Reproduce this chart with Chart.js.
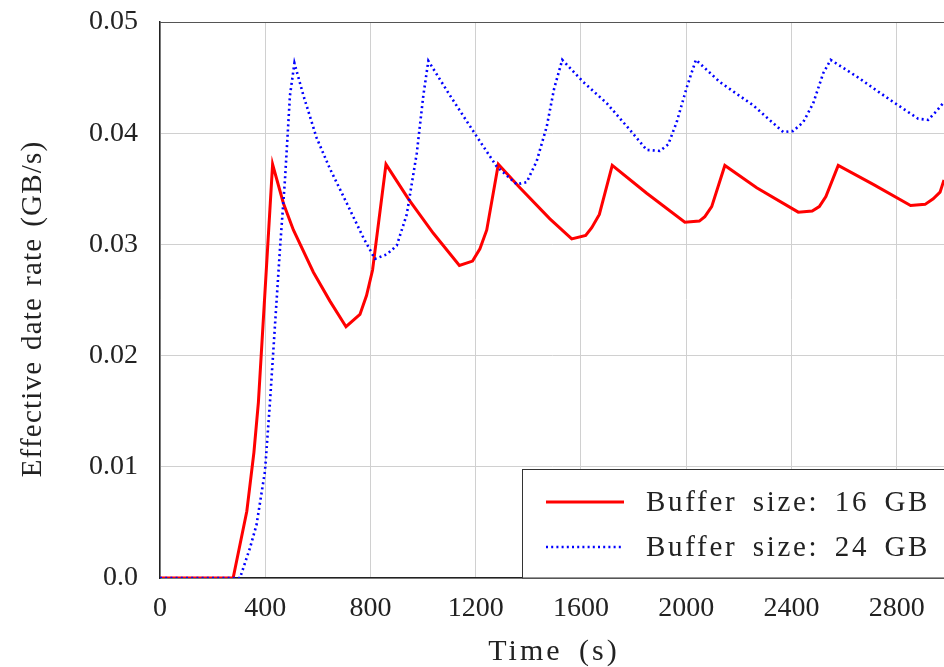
<!DOCTYPE html>
<html>
<head>
<meta charset="utf-8">
<script src="https://cdn.jsdelivr.net/npm/chart.js@4"></script>
<style>
  html, body { margin: 0; padding: 0; background: #fff; overflow: hidden; }
  #wrap { width: 944px; height: 667px; position: relative; }
</style>
</head>
<body>
<div id="wrap"><canvas id="myChart"></canvas></div>
<script>
// values
const time16 = [0, 278, 330, 357, 374, 428, 469, 507, 583, 646, 707, 760, 785, 808, 859, 944, 1039, 1138, 1188, 1216, 1242, 1286, 1368, 1482, 1565, 1618, 1641, 1670, 1719, 1850, 1995, 2050, 2071, 2097, 2147, 2268, 2426, 2479, 2506, 2531, 2578, 2711, 2853, 2908, 2939, 2965, 2980];
const rate16 = [0, 0, 0.0060, 0.0113, 0.0158, 0.0372, 0.0337, 0.0313, 0.0275, 0.0249, 0.0226, 0.0237, 0.0254, 0.0277, 0.0372, 0.0341, 0.0310, 0.0281, 0.0285, 0.0296, 0.0313, 0.0372, 0.0351, 0.0323, 0.0305, 0.0308, 0.0315, 0.0327, 0.0371, 0.0346, 0.0320, 0.0321, 0.0325, 0.0334, 0.0371, 0.0351, 0.0329, 0.0330, 0.0334, 0.0343, 0.0371, 0.0354, 0.0335, 0.0336, 0.0341, 0.0347, 0.0358];

const time24 = [0, 304, 342, 367, 399, 418, 437, 456, 475, 494, 511, 545, 595, 646, 710, 773, 817, 862, 900, 938, 976, 1001, 1020, 1102, 1204, 1280, 1356, 1394, 1432, 1470, 1498, 1529, 1609, 1698, 1786, 1850, 1900, 1932, 1964, 2002, 2037, 2128, 2255, 2369, 2407, 2445, 2483, 2521, 2549, 2648, 2775, 2882, 2920, 2952, 2980];
const rate24 = [0, 0, 0.0027, 0.0048, 0.0096, 0.0158, 0.0227, 0.0296, 0.0358, 0.0434, 0.0463, 0.0434, 0.0396, 0.0368, 0.0337, 0.0306, 0.0287, 0.0291, 0.0299, 0.0327, 0.0382, 0.0434, 0.0465, 0.0434, 0.0397, 0.0370, 0.0354, 0.0356, 0.0375, 0.0406, 0.0440, 0.0466, 0.0446, 0.0427, 0.0403, 0.0385, 0.0384, 0.0390, 0.0410, 0.0441, 0.0466, 0.0446, 0.0425, 0.0401, 0.0402, 0.0410, 0.0427, 0.0454, 0.0466, 0.0451, 0.0430, 0.0413, 0.0412, 0.0420, 0.0428];

const labels = ["Buffer size: 16 GB", "Buffer size: 24 GB"];
const xTitle = "Time (s)";
const yTitle = "Effective date rate (GB/s)";

const FONT = "'Liberation Serif', serif";
const TEXT = "#222";

const pts = (xs, ys) => xs.map((x, i) => ({x: x, y: ys[i]}));

// wide-ish text, the original is set in computer modern
function wideText(ctx, str, x, y, size, spacing, align) {
    ctx.font = size + "px " + FONT;
    ctx.letterSpacing = spacing + "px";
    ctx.wordSpacing = (spacing * 2) + "px";
    ctx.textAlign = align;
    ctx.textBaseline = "middle";
    ctx.fillStyle = TEXT;
    ctx.fillText(str, x, y);
    ctx.letterSpacing = "0px";
    ctx.wordSpacing = "0px";
}

// top line, axis titles and the legend box in the lower right
const frame = {
    id: "frame",
    afterDatasetsDraw(chart) {
        const ctx = chart.ctx;
        const a = chart.chartArea;
        ctx.save();
        ctx.strokeStyle = "#555";
        ctx.lineWidth = 1;
        ctx.beginPath();
        ctx.moveTo(a.left, a.top + 0.5);
        ctx.lineTo(a.right, a.top + 0.5);
        ctx.stroke();

        // titles
        wideText(ctx, xTitle, (a.left + a.right) / 2 + 2, 652, 30, 3, "center");
        ctx.save();
        ctx.translate(33, 309);
        ctx.rotate(-Math.PI / 2);
        wideText(ctx, yTitle, 0, 0, 29, 1.2, "center");
        ctx.restore();

        // legend
        const lx = 522.5, ly = 469.5;
        ctx.fillStyle = "#fff";
        ctx.fillRect(lx, ly, a.right - lx + 10, a.bottom - ly);
        ctx.strokeStyle = "#333";
        ctx.lineWidth = 1;
        ctx.strokeRect(lx, ly, a.right - lx + 10, a.bottom - ly);
        const ds = chart.data.datasets;
        const rows = [502, 547];
        ds.forEach((d, i) => {
            ctx.strokeStyle = d.borderColor;
            ctx.lineWidth = d.borderWidth;
            ctx.setLineDash(d.borderDash || []);
            ctx.beginPath();
            ctx.moveTo(546, rows[i]);
            ctx.lineTo(624, rows[i]);
            ctx.stroke();
            ctx.setLineDash([]);
            wideText(ctx, d.label, 646, rows[i] + 1, 29, 2.7, "left");
        });
        ctx.restore();
    }
};

const ctx = document.getElementById("myChart").getContext("2d");
new Chart(ctx, {
    type: "line",
    data: {
        datasets: [{
            label: labels[0],
            data: pts(time16, rate16),
            borderColor: "#ff0000",
            borderWidth: 3,
            pointRadius: 0,
            tension: 0,
            fill: false,
            order: 2,
        }, {
            label: labels[1],
            data: pts(time24, rate24),
            borderColor: "#0000ff",
            borderWidth: 2.6,
            borderDash: [2, 3.2],
            pointRadius: 0,
            tension: 0,
            fill: false,
            order: 1,
        }],
    },
    options: {
        responsive: true,
        maintainAspectRatio: false,
        animation: false,
        layout: { padding: { top: 22, right: 0, left: 0, bottom: 0 } },
        plugins: {
            legend: { display: false },
            tooltip: { enabled: false },
        },
        scales: {
            x: {
                type: "linear",
                min: 0,
                max: 2980,
                afterFit: s => { s.height = 89; },
                ticks: {
                    stepSize: 400,
                    includeBounds: false,
                    color: TEXT,
                    font: { family: FONT, size: 28 },
                    padding: 14,
                    maxRotation: 0,
                    callback: v => String(v),
                },
                grid: { color: "#d0d0d0", drawTicks: false },
                border: { color: "#222", width: 1.5 },
            },
            y: {
                min: 0,
                max: 0.05,
                afterFit: s => {
                    s.width = 160;
                    s.paddingTop = 0;
                    s.paddingBottom = 0;
                },
                ticks: {
                    stepSize: 0.01,
                    color: TEXT,
                    font: { family: FONT, size: 28 },
                    padding: 22,
                    callback: v => v === 0 ? "0.0" : v.toFixed(2),
                },
                grid: { color: "#d0d0d0", drawTicks: false },
                border: { color: "#222", width: 1.5 },
            },
        },
    },
    plugins: [frame],
});
</script>
</body>
</html>
